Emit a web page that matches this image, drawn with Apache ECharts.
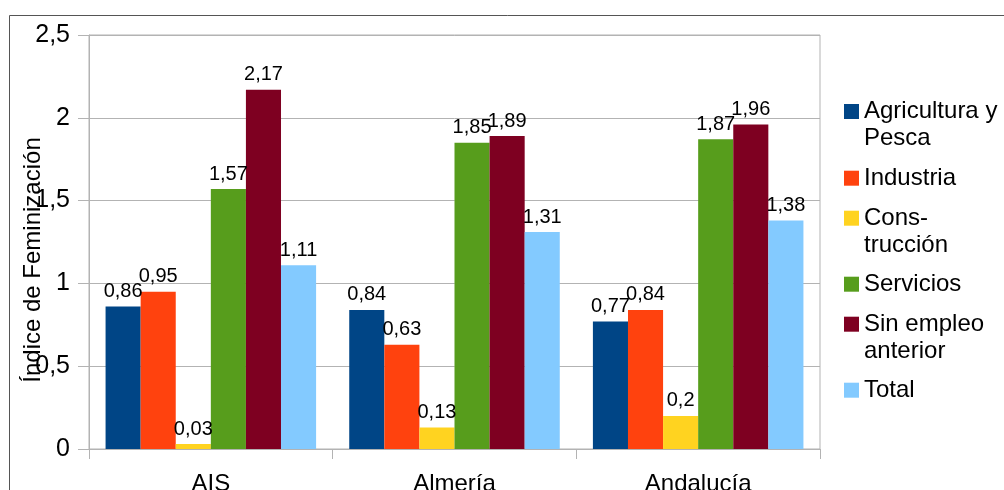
<!DOCTYPE html>
<html>
<head>
<meta charset="utf-8">
<script src="https://cdn.jsdelivr.net/npm/echarts@6/dist/echarts.min.js"></script>
<style>
html,body{margin:0;padding:0;background:#fff;}
#c{width:1004px;height:490px;}
</style>
</head>
<body>
<div id="c"></div>
<script>
var categories = ['AIS', 'Almería', 'Andalucía'];
var seriesNames = ['Agricultura y Pesca', 'Industria', 'Construcción', 'Servicios', 'Sin empleo anterior', 'Total'];
var legendLabels = ['Agricultura y\nPesca', 'Industria', 'Cons-\ntrucción', 'Servicios', 'Sin empleo\nanterior', 'Total'];
var agricultura = [0.86, 0.84, 0.77];
var industria = [0.95, 0.63, 0.84];
var construccion = [0.03, 0.13, 0.2];
var servicios = [1.57, 1.85, 1.87];
var sinEmpleo = [2.17, 1.89, 1.96];
var total = [1.11, 1.31, 1.38];
var yTicks = [0, 0.5, 1, 1.5, 2, 2.5];
var colors = ['#004586', '#ff420e', '#ffd320', '#579d1c', '#7e0021', '#83caff'];

var values = [agricultura, industria, construccion, servicios, sinEmpleo, total];
var FONT = 'Liberation Sans';
function comma(v) { return String(v).replace('.', ','); }

var series = seriesNames.map(function (n, i) {
  return {
    name: n,
    type: 'bar',
    data: values[i],
    barGap: '0%',
    barCategoryGap: '13.6%',
    itemStyle: { color: colors[i] },
    label: {
      show: true,
      position: 'top',
      distance: 5,
      color: '#000',
      fontFamily: FONT,
      fontSize: 20,
      formatter: function (p) { return comma(p.value); }
    }
  };
});

var legendTops = [71, 164.7, 177.7, 270.7, 283.7, 376.7];
var legends = seriesNames.map(function (n, i) {
  var dbl = legendLabels[i].indexOf('\n') >= 0;
  return {
    orient: 'vertical',
    left: 844,
    top: legendTops[i],
    padding: 0,
    itemWidth: 15,
    itemHeight: 15,
    icon: 'rect',
    selectedMode: false,
    data: [n],
    formatter: function () { return dbl ? '\n' + legendLabels[i] : legendLabels[i]; },
    textStyle: {
      color: '#000',
      fontFamily: FONT,
      fontSize: 24,
      lineHeight: 27
    }
  };
});

var chart = echarts.init(document.getElementById('c'));
chart.setOption({
  animation: false,
  color: colors,
  textStyle: { fontFamily: FONT },
  graphic: [{
    type: 'rect',
    shape: { x: 9.5, y: 15.5, width: 1200, height: 700 },
    style: { fill: 'none', stroke: '#555', lineWidth: 1 },
    silent: true
  }],
  legend: legends,
  grid: {
    left: 89, right: 184, top: 35, bottom: 41,
    outerBoundsMode: 'none',
    containLabel: false,
    show: true, borderColor: '#b3b3b3', borderWidth: 1, backgroundColor: 'transparent'
  },
  xAxis: {
    type: 'category',
    data: categories,
    axisLine: { lineStyle: { color: '#b3b3b3' } },
    axisTick: { show: true, length: 10, lineStyle: { color: '#b3b3b3' } },
    axisLabel: { color: '#000', fontFamily: FONT, fontSize: 24, margin: 23 }
  },
  yAxis: {
    type: 'value',
    min: 0, max: 2.5, interval: 0.5,
    name: 'Índice de Feminización',
    nameLocation: 'middle',
    nameGap: 44,
    nameRotate: 90,
    nameMoveOverlap: false,
    nameTextStyle: { color: '#000', fontFamily: FONT, fontSize: 24, padding: [0, 36, 0, 0] },
    axisLine: { show: true, lineStyle: { color: '#b3b3b3' } },
    axisTick: { show: true, length: 11, lineStyle: { color: '#b3b3b3' } },
    splitLine: { show: true, lineStyle: { color: '#b3b3b3' } },
    axisLabel: {
      color: '#000', fontFamily: FONT, fontSize: 25, margin: 19,
      formatter: function (v) { return yTicks.indexOf(v) >= 0 ? comma(v) : ''; }
    }
  },
  series: series
});
</script>
</body>
</html>
